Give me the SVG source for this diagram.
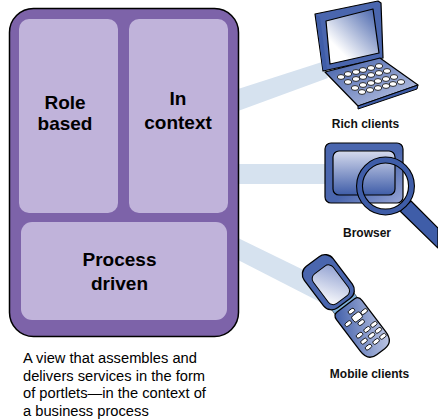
<svg xmlns="http://www.w3.org/2000/svg" width="438" height="420" viewBox="0 0 438 420">
<style>
text{font-family:"Liberation Sans",Arial,sans-serif;fill:#000}
.h{font-size:19px;font-weight:bold;text-anchor:middle}
.l{font-size:12px;font-weight:bold;text-anchor:middle;fill:#111}
.d{font-size:14.700px}
.p{fill:#c0b3da}
.b{fill:#d6e2ef}
.k{stroke:#000;stroke-linejoin:round}
</style>
<defs>
<linearGradient id="sc" x1="1" y1="0" x2="0" y2="1"><stop offset="0" stop-color="#3f5da8"/><stop offset=".75" stop-color="#fff"/></linearGradient>
<linearGradient id="sc2" x1="0" y1="0" x2="0" y2="1"><stop offset="0" stop-color="#d5daee"/><stop offset="1" stop-color="#3f5da8"/></linearGradient>
<linearGradient id="sc3" x1="1" y1="0" x2="0" y2="1"><stop offset="0" stop-color="#8f9fd0"/><stop offset="1" stop-color="#fff"/></linearGradient>
<linearGradient id="kb" x1="0" y1="0" x2="1" y2="1"><stop offset="0" stop-color="#3f5da8"/><stop offset="1" stop-color="#c5cde8"/></linearGradient>
<linearGradient id="fr" x1="0" y1="0" x2="1" y2="1"><stop offset=".55" stop-color="#4a66ae"/><stop offset="1" stop-color="#98a6d6"/></linearGradient>
<ellipse id="key" rx="3.7" ry="2.4" fill="#fff" stroke="#000" stroke-width=".8"/>
<rect id="pk" x="-3.500" y="-1.900" width="7" height="3.800" rx="1.800" fill="#fff" stroke="#000" stroke-width=".8"/>
</defs>
<g id="connectors">
<polygon class="b" points="238,89 322,62 328,78 238,111"/>
<rect class="b" x="238" y="164" width="90" height="20"/>
<polygon class="b" points="238,238 320,278 320,302 238,260"/>
</g>
<g id="portal">
<rect x="9.500" y="8.500" width="229" height="328" rx="24" fill="#7d63a9" stroke="#000" stroke-width="1.500"/>
<rect class="p" x="19" y="19" width="99" height="194" rx="10"/>
<rect class="p" x="129" y="19" width="99" height="194" rx="10"/>
<rect class="p" x="21" y="222" width="206" height="98" rx="11"/>
</g>
<g id="role-based"><text class="h" x="65" y="109">Role</text><text class="h" x="65" y="130">based</text></g>
<g id="in-context"><text class="h" x="178" y="105">In</text><text class="h" x="178" y="129">context</text></g>
<g id="process-driven"><text class="h" x="119.500" y="266">Process</text><text class="h" x="119.500" y="290">driven</text></g>
<g id="description">
<text class="d" x="23" y="363">A view that assembles and</text>
<text class="d" x="23" y="380.500">delivers services in the form</text>
<text class="d" x="23" y="398">of portlets—in the context of</text>
<text class="d" x="23" y="415.500">a business process</text>
</g>
<g id="rich-clients">
<polygon class="k" fill="#4a66ae" stroke-width="1.200" points="315,14 378,1 381,3 383,58 323,71"/>
<polygon fill="#3f5da8" points="316,15 323,70 327,69 320,17"/>
<polygon class="k" fill="url(#sc)" stroke-width="1.200" points="326,21 373,9 379,53 330,64"/>
<polygon class="k" fill="url(#kb)" stroke-width="1.200" points="325,72 380,58 418,85 358,106"/>
<polygon class="k" fill="#3f5da8" stroke-width="1" points="358,106 418,85 417,89 358,109"/>
<g id="laptop-keys">
<use href="#key" x="341" y="77"/><use href="#key" x="348" y="74"/><use href="#key" x="356" y="72"/><use href="#key" x="363" y="70"/><use href="#key" x="371" y="68"/><use href="#key" x="379" y="66"/>
<use href="#key" x="348" y="82"/><use href="#key" x="356" y="79"/><use href="#key" x="363" y="77"/><use href="#key" x="371" y="75"/><use href="#key" x="379" y="73"/><use href="#key" x="387" y="71"/>
<use href="#key" x="355" y="88"/><use href="#key" x="363" y="85"/><use href="#key" x="371" y="83"/><use href="#key" x="378" y="81"/><use href="#key" x="386" y="79"/><use href="#key" x="394" y="77"/>
<use href="#key" x="362" y="92"/><use href="#key" x="370" y="90"/><use href="#key" x="378" y="88"/><use href="#key" x="386" y="86"/><use href="#key" x="393" y="84"/><use href="#key" x="401" y="82"/>
</g>
<text class="l" x="365.500" y="128">Rich clients</text>
</g>
<g id="browser">
<rect class="k" x="325" y="143" width="78" height="60" rx="6" fill="url(#fr)" stroke-width="1.200"/>
<rect class="k" x="333" y="151" width="62" height="44" rx="6" fill="url(#sc2)" stroke-width="1.200"/>
<polygon class="k" fill="#3f5da8" stroke-width="1.200" points="400,211 411,201 438,228 438,248"/>
<circle cx="385.500" cy="186" r="26" fill="none" stroke="#000" stroke-width="7"/>
<circle cx="385.500" cy="186" r="26" fill="none" stroke="#3f5da8" stroke-width="4.800"/>
<text class="l" x="367" y="237">Browser</text>
</g>
<g id="mobile-clients">
<g transform="translate(344,303) rotate(-37)">
<rect x="-14" y="-3" width="28" height="7" fill="#7fb0d8" stroke="#000" stroke-width=".5"/>
<rect class="k" x="-18" y="-52" width="36" height="52" rx="10" fill="#4a66ae" stroke-width="1.300"/>
<rect class="k" x="-12" y="-41" width="25" height="37" rx="6" fill="url(#sc3)" stroke-width="1"/>
<path class="k" fill="url(#kb)" stroke-width="1.300" d="M-11 3H11Q16 3 16 9V48Q16 61 5 61H-5Q-16 61 -16 48V9Q-16 3 -11 3Z"/>
<rect x="-3" y="15.500" width="10" height="7" rx="2" fill="#fff" stroke="#000" stroke-width=".8"/>
<use href="#pk" x="1" y="11"/><use href="#pk" x="2" y="26"/>
<use href="#pk" x="-9" y="19"/><use href="#pk" x="11" y="19"/>
<use href="#pk" x="-7" y="35"/><use href="#pk" x="2.500" y="35"/><use href="#pk" x="11" y="35"/>
<use href="#pk" x="-7" y="42.500"/><use href="#pk" x="2.500" y="42.500"/><use href="#pk" x="11" y="42.500"/>
<use href="#pk" x="-7" y="50"/><use href="#pk" x="2.500" y="50"/><use href="#pk" x="11" y="50"/>
</g>
<text class="l" x="369.500" y="378">Mobile clients</text>
</g>
</svg>
